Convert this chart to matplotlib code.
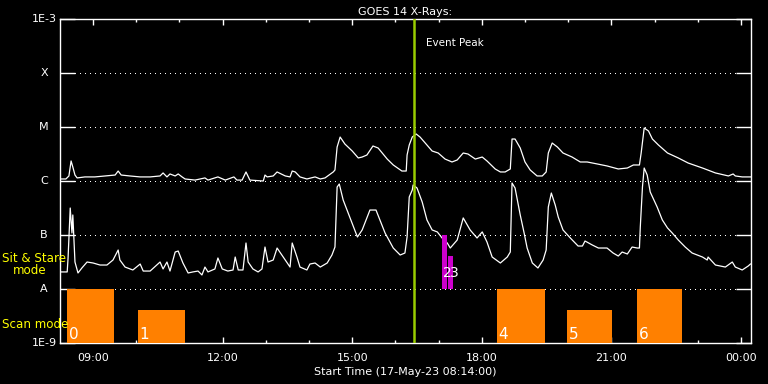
import matplotlib
matplotlib.use("Agg")
import matplotlib.pyplot as plt
import matplotlib.transforms as mtransforms
from matplotlib.ticker import FixedLocator, NullLocator

# hours since 00:00 on 17-May-23 (values past 24 are the next day)
long_hours = [8.23, 8.37, 8.44, 8.49, 8.53, 8.58, 8.63, 8.81, 9.04, 9.28, 9.51, 9.58, 9.65,
              9.85, 10.09, 10.32, 10.55, 10.62, 10.71, 10.78, 10.90, 10.97, 11.06, 11.13,
              11.36, 11.59, 11.66, 11.89, 12.06, 12.26, 12.33, 12.45, 12.54, 12.63, 12.94,
              12.98, 13.03, 13.17, 13.26, 13.45, 13.56, 13.61, 13.68, 13.79, 13.95, 14.14,
              14.26, 14.37, 14.56, 14.60, 14.65, 14.72, 14.83, 15.00, 15.14, 15.23, 15.34,
              15.48, 15.60, 15.81, 15.95, 16.15, 16.25, 16.27, 16.32, 16.39, 16.48, 16.57,
              16.69, 16.85, 16.99, 17.15, 17.31, 17.43, 17.57, 17.68, 17.85, 18.01, 18.12,
              18.31, 18.43, 18.54, 18.66, 18.70, 18.77, 18.89, 19.00, 19.12, 19.28, 19.40,
              19.49, 19.54, 19.63, 19.75, 19.88, 20.09, 20.28, 20.44, 20.67, 20.90, 21.16,
              21.37, 21.51, 21.65, 21.69, 21.76, 21.86, 21.95, 22.09, 22.30, 22.55, 22.78,
              23.11, 23.41, 23.71, 23.82, 23.87, 24.03, 24.22]
long_flux = [1.09e-6, 1.09e-6, 1.24e-6, 2.35e-6, 1.82e-6, 1.29e-6, 1.14e-6, 1.19e-6, 1.19e-6,
             1.24e-6, 1.29e-6, 1.53e-6, 1.29e-6, 1.24e-6, 1.19e-6, 1.19e-6, 1.24e-6, 1.41e-6,
             1.19e-6, 1.35e-6, 1.24e-6, 1.35e-6, 1.19e-6, 1.09e-6, 1.04e-6, 1.14e-6, 1.04e-6,
             1.19e-6, 1.04e-6, 1.19e-6, 1.04e-6, 1.04e-6, 1.47e-6, 1.04e-6, 1.00e-6, 1.29e-6,
             1.19e-6, 1.24e-6, 1.47e-6, 1.24e-6, 1.19e-6, 1.53e-6, 1.47e-6, 1.19e-6, 1.09e-6,
             1.19e-6, 1.09e-6, 1.14e-6, 1.47e-6, 1.60e-6, 4.26e-6, 6.52e-6, 4.84e-6, 3.59e-6,
             2.67e-6, 2.78e-6, 3.03e-6, 4.45e-6, 4.08e-6, 2.55e-6, 1.98e-6, 1.53e-6, 1.53e-6,
             3.03e-6, 4.64e-6, 6.52e-6, 7.42e-6, 6.52e-6, 5.05e-6, 3.59e-6, 3.30e-6, 2.55e-6,
             2.25e-6, 2.45e-6, 3.30e-6, 3.16e-6, 2.55e-6, 2.78e-6, 2.35e-6, 1.67e-6, 1.47e-6,
             1.47e-6, 1.67e-6, 5.99e-6, 5.99e-6, 4.08e-6, 2.25e-6, 1.60e-6, 1.24e-6, 1.24e-6,
             1.47e-6, 3.30e-6, 5.05e-6, 4.26e-6, 3.30e-6, 2.78e-6, 2.25e-6, 2.25e-6, 2.07e-6,
             1.90e-6, 1.67e-6, 1.74e-6, 1.98e-6, 1.98e-6, 3.30e-6, 9.58e-6, 8.43e-6, 5.99e-6,
             4.64e-6, 3.30e-6, 2.67e-6, 2.15e-6, 1.74e-6, 1.41e-6, 1.24e-6, 1.35e-6, 1.24e-6,
             1.19e-6, 1.19e-6]

short_hours = [8.23, 8.40, 8.42, 8.47, 8.51, 8.53, 8.58, 8.65, 8.74, 8.86, 9.00, 9.16, 9.32,
               9.46, 9.58, 9.62, 9.74, 9.92, 10.09, 10.16, 10.32, 10.55, 10.62, 10.71, 10.78,
               10.90, 10.97, 11.08, 11.20, 11.31, 11.43, 11.52, 11.59, 11.66, 11.82, 11.89,
               11.99, 12.12, 12.24, 12.29, 12.36, 12.47, 12.54, 12.59, 12.70, 12.82, 12.91,
               12.98, 13.05, 13.17, 13.26, 13.45, 13.56, 13.61, 13.68, 13.72, 13.79, 13.95,
               14.02, 14.14, 14.26, 14.42, 14.53, 14.60, 14.65, 14.70, 14.79, 14.95, 15.12,
               15.23, 15.41, 15.55, 15.76, 15.95, 16.11, 16.22, 16.27, 16.32, 16.39, 16.41,
               16.50, 16.62, 16.73, 16.85, 16.97, 17.08, 17.20, 17.27, 17.43, 17.57, 17.73,
               17.89, 18.01, 18.12, 18.24, 18.43, 18.59, 18.66, 18.70, 18.77, 18.89, 18.98,
               19.05, 19.17, 19.30, 19.42, 19.49, 19.54, 19.61, 19.70, 19.77, 19.88, 20.05,
               20.23, 20.33, 20.39, 20.56, 20.70, 20.90, 21.04, 21.16, 21.25, 21.37, 21.48,
               21.60, 21.65, 21.67, 21.72, 21.76, 21.83, 21.90, 22.06, 22.18, 22.30, 22.41,
               22.55, 22.71, 22.87, 23.11, 23.22, 23.24, 23.41, 23.64, 23.80, 23.87, 24.03,
               24.17, 24.22]
short_flux = [2.07e-8, 2.07e-8, 3.75e-8, 3.16e-7, 1.09e-7, 2.35e-7, 3.16e-8, 1.98e-8, 2.45e-8,
              3.16e-8, 3.03e-8, 2.78e-8, 2.78e-8, 3.44e-8, 5.27e-8, 3.44e-8, 2.55e-8, 2.25e-8,
              2.90e-8, 2.15e-8, 2.15e-8, 3.16e-8, 2.35e-8, 3.16e-8, 2.15e-8, 4.84e-8, 5.05e-8,
              3.03e-8, 1.98e-8, 2.07e-8, 2.15e-8, 1.82e-8, 2.55e-8, 2.07e-8, 2.35e-8, 3.75e-8,
              2.35e-8, 2.15e-8, 2.25e-8, 3.91e-8, 2.25e-8, 2.25e-8, 7.11e-8, 3.16e-8, 2.35e-8,
              2.07e-8, 2.35e-8, 5.99e-8, 3.16e-8, 3.44e-8, 5.74e-8, 3.44e-8, 2.55e-8, 7.11e-8,
              4.84e-8, 3.91e-8, 2.55e-8, 2.25e-8, 2.90e-8, 3.03e-8, 2.55e-8, 3.03e-8, 4.26e-8,
              5.99e-8, 7.74e-7, 8.80e-7, 4.45e-7, 2.07e-7, 9.18e-8, 1.24e-7, 2.90e-7, 2.90e-7,
              1.09e-7, 5.74e-8, 4.26e-8, 4.64e-8, 9.18e-8, 5.05e-7, 6.81e-7, 8.43e-7, 7.42e-7,
              4.08e-7, 1.90e-7, 1.24e-7, 1.14e-7, 8.80e-8, 7.11e-8, 5.74e-8, 8.07e-8, 2.07e-7,
              1.24e-7, 8.80e-8, 1.14e-7, 7.42e-8, 3.91e-8, 3.03e-8, 3.91e-8, 4.84e-8, 9.18e-7,
              7.42e-7, 2.35e-7, 1.09e-7, 5.74e-8, 3.03e-8, 2.45e-8, 3.44e-8, 5.27e-8, 3.30e-7,
              5.99e-7, 3.59e-7, 2.15e-7, 1.24e-7, 8.80e-8, 6.25e-8, 6.25e-8, 7.74e-8, 6.52e-8,
              5.74e-8, 5.74e-8, 4.64e-8, 4.08e-8, 4.84e-8, 4.45e-8, 5.99e-8, 5.74e-8, 5.74e-8,
              1.41e-7, 7.74e-7, 1.74e-6, 1.29e-6, 6.25e-7, 3.30e-7, 1.90e-7, 1.35e-7, 1.09e-7,
              8.07e-8, 5.99e-8, 4.64e-8, 3.91e-8, 3.44e-8, 3.91e-8, 2.78e-8, 2.55e-8, 3.16e-8,
              2.55e-8, 2.25e-8, 2.67e-8, 2.90e-8]

# scan mode rasters (orange) and sit & stare rasters (magenta)
scan_ids = ["0", "1", "4", "5", "6"]
scan_start = [8.40, 10.04, 18.36, 19.98, 21.60]
scan_end = [9.48, 11.13, 19.47, 21.02, 22.64]
scan_top = [1e-8, 4.1e-9, 1e-8, 4.1e-9, 1e-8]

stare_ids = ["2", "3"]
stare_start = [17.08, 17.22]
stare_end = [17.20, 17.34]
stare_top = [1e-7, 4.1e-8]

event_peak = 16.43

flux_levels = [1e-9, 1e-8, 1e-7, 1e-6, 1e-5, 1e-4, 1e-3]
level_labels = ["1E-9", "A", "B", "C", "M", "X", "1E-3"]
hour_ticks = [9, 12, 15, 18, 21, 24]
hour_labels = ["09:00", "12:00", "15:00", "18:00", "21:00", "00:00"]

fig = plt.figure(figsize=(7.68, 3.84), dpi=100, facecolor="black")
ax = fig.add_axes([60 / 768, 41 / 384, 691 / 768, 324 / 384])
ax.set_facecolor("black")
ax.set_yscale("log")
ax.set_xlim(8 + 14 / 60, 24 + 14 / 60)
ax.set_ylim(flux_levels[0], flux_levels[-1])

for s in ax.spines.values():
    s.set_color("white")
    s.set_linewidth(1.0)

# dotted flare class lines
for lev in flux_levels[1:-1]:
    ax.axhline(lev, color="white", lw=0.72, ls=(0, (1, 5)), zorder=1, antialiased=False)

ax.plot(long_hours, long_flux, color="white", lw=0.9, zorder=3)
ax.plot(short_hours, short_flux, color="white", lw=0.9, zorder=3)

ax.bar(scan_start, [t - 1e-9 for t in scan_top], bottom=1e-9,
       width=[e - s for s, e in zip(scan_start, scan_end)], align="edge",
       color="#ff8000", linewidth=0, zorder=4)
ax.bar(stare_start, [t - 1e-8 for t in stare_top], bottom=1e-8,
       width=[e - s for s, e in zip(stare_start, stare_end)], align="edge",
       color="#cc00cc", linewidth=0, zorder=4)

for lab, x0 in zip(scan_ids, scan_start):
    ax.annotate(lab, (x0, 1e-9), xytext=(1, 3), textcoords="offset points",
                color="white", fontsize=11, va="baseline", ha="left", zorder=6)
for lab, x0 in zip(stare_ids, stare_start):
    ax.annotate(lab, (x0, 1e-8), xytext=(1, 8.5), textcoords="offset points",
                color="white", fontsize=10, va="baseline", ha="left", zorder=6)

ax.axvline(event_peak, color="#99cc00", lw=1.8, zorder=5)
ax.text(event_peak + 0.28, 3.6e-4, "Event Peak", color="white", fontsize=7.5,
        va="center", ha="left")

# ticks
ax.yaxis.set_major_locator(FixedLocator(flux_levels))
ax.yaxis.set_minor_locator(NullLocator())
ax.tick_params(axis="y", which="major", direction="in", length=10.5, width=1.0,
               color="white", left=True, right=True, labelleft=False)
ax.xaxis.set_major_locator(FixedLocator(hour_ticks))
ax.xaxis.set_minor_locator(FixedLocator(range(9, 25)))
ax.set_xticklabels(hour_labels)
ax.tick_params(axis="x", which="major", direction="in", length=4.3, width=1.0,
               color="white", top=True, bottom=True, labelcolor="white",
               labelsize=8, pad=7)
ax.tick_params(axis="x", which="minor", direction="in", length=2.2, width=1.0,
               color="white", top=True, bottom=True)

trans = mtransforms.blended_transform_factory(ax.transAxes, ax.transData)
for lev, lab in zip(flux_levels, level_labels):
    ax.text(-16 / 691, lev, lab, transform=trans, color="white", fontsize=8,
            ha="center", va="center")

fig.text(2 / 768, 1 - 259 / 384, "Sit & Stare", color="#ffff00", fontsize=8.6,
         ha="left", va="center")
fig.text(13 / 768, 1 - 271 / 384, "mode", color="#ffff00", fontsize=8.6,
         ha="left", va="center")
fig.text(2 / 768, 1 - 324 / 384, "Scan mode", color="#ffff00", fontsize=8.6,
         ha="left", va="center")

ax.set_title("GOES 14 X-Rays:", color="white", fontsize=8, pad=3)
ax.set_xlabel("Start Time (17-May-23 08:14:00)", color="white", fontsize=8, labelpad=3)

fig.savefig("out.png", dpi=100, facecolor="black")
